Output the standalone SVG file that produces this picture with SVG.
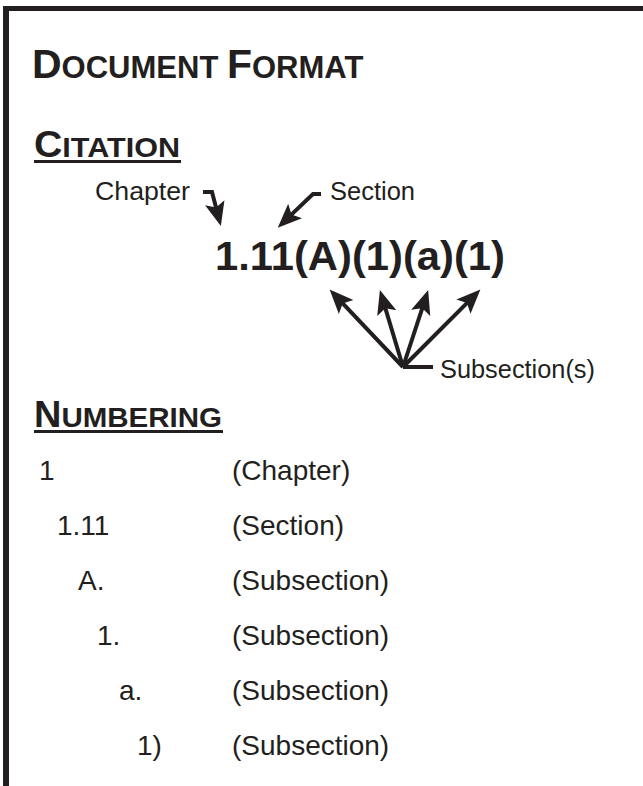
<svg xmlns="http://www.w3.org/2000/svg" width="643" height="786" viewBox="0 0 643 786">
<style>
text{font-family:"Liberation Sans",Arial,sans-serif;fill:#231f20}
.h{font-weight:bold}
.lbl{font-size:25px}
.row{font-size:28px}
.arr{fill:none;stroke:#231f20;stroke-width:4;stroke-linejoin:miter}
</style>
<defs>
<marker id="ah" markerUnits="userSpaceOnUse" markerWidth="26" markerHeight="22" refX="8" refY="10" orient="auto" viewBox="0 0 26 22">
<path d="M0,0 L24,10 L0,20 L5,10 z" fill="#231f20"/>
</marker>
</defs>
<rect width="643" height="786" fill="#ffffff"/>
<g id="border">
<line x1="6" y1="6" x2="6" y2="786" stroke="#231f20" stroke-width="6"/>
<line x1="3" y1="8.5" x2="643" y2="8.5" stroke="#231f20" stroke-width="5"/>
</g>
<g id="title">
<text class="h" x="32" y="78"><tspan font-size="41">D</tspan><tspan font-size="31">OCUMENT </tspan><tspan font-size="41">F</tspan><tspan font-size="31">ORMAT</tspan></text>
</g>
<g id="citation-heading">
<text class="h" x="34" y="157" textLength="146" lengthAdjust="spacingAndGlyphs"><tspan font-size="36">C</tspan><tspan font-size="28">ITATION</tspan></text>
<rect x="34" y="160" width="147" height="3" fill="#231f20"/>
</g>
<g id="citation">
<text class="h" x="215" y="270" font-size="41" textLength="290" lengthAdjust="spacingAndGlyphs">1.11(A)(1)(a)(1)</text>
</g>
<g id="chapter-label"><text class="lbl" x="95" y="200" textLength="95" lengthAdjust="spacingAndGlyphs">Chapter</text></g>
<g id="section-label"><text class="lbl" x="330" y="200" textLength="85" lengthAdjust="spacingAndGlyphs">Section</text></g>
<g id="subsection-label"><text class="lbl" x="440" y="378" textLength="155" lengthAdjust="spacingAndGlyphs">Subsection(s)</text></g>
<g id="connectors">
<path class="arr" d="M203,192 L212,192 L216.8,210.4" marker-end="url(#ah)"/>
<path class="arr" d="M321,194 L313,194 L289.3,216.6" marker-end="url(#ah)"/>
<path class="arr" d="M403,367 L340.6,301.2" marker-end="url(#ah)"/>
<path class="arr" d="M403,367 L384.5,305.4" marker-end="url(#ah)"/>
<path class="arr" d="M403,367 L423.2,305.3" marker-end="url(#ah)"/>
<path class="arr" d="M403,367 L469.1,300.9" marker-end="url(#ah)"/>
<path class="arr" d="M403,367 L433,367"/>
</g>
<g id="numbering-heading">
<text class="h" x="34" y="427" textLength="188" lengthAdjust="spacingAndGlyphs"><tspan font-size="36">N</tspan><tspan font-size="28">UMBERING</tspan></text>
<rect x="34" y="430" width="189" height="3" fill="#231f20"/>
</g>
<g id="row1"><text class="row" x="39" y="480">1</text><text class="row" x="232" y="480">(Chapter)</text></g>
<g id="row2"><text class="row" x="57" y="535">1.11</text><text class="row" x="232" y="535">(Section)</text></g>
<g id="row3"><text class="row" x="78" y="590">A.</text><text class="row" x="232" y="590">(Subsection)</text></g>
<g id="row4"><text class="row" x="97" y="645">1.</text><text class="row" x="232" y="645">(Subsection)</text></g>
<g id="row5"><text class="row" x="119" y="700">a.</text><text class="row" x="232" y="700">(Subsection)</text></g>
<g id="row6"><text class="row" x="137" y="755">1)</text><text class="row" x="232" y="755">(Subsection)</text></g>
</svg>
